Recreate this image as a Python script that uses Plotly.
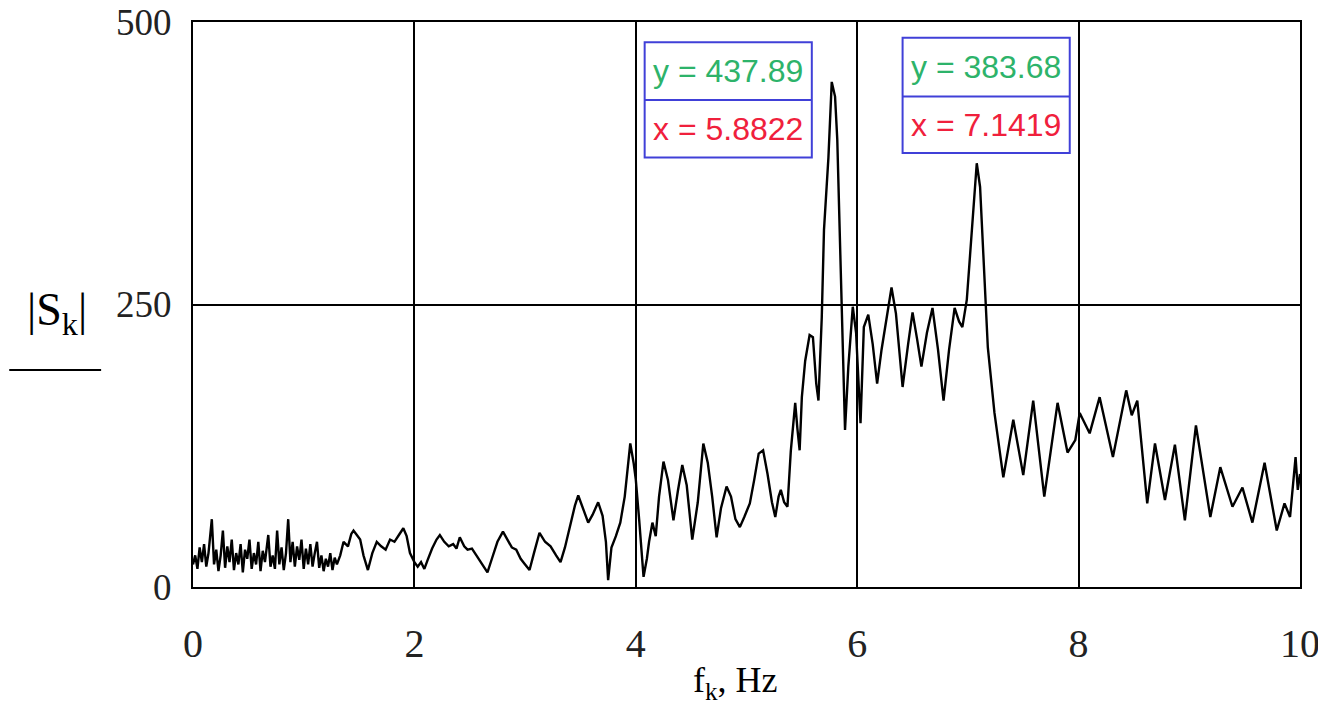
import plotly.graph_objects as go

freq = [0.00, 0.02, 0.04, 0.06, 0.08, 0.10, 0.12, 0.14, 0.17, 0.19, 0.21, 0.23, 0.25, 0.27, 0.29,
        0.31, 0.33, 0.35, 0.37, 0.39, 0.41, 0.43, 0.45, 0.47, 0.49, 0.51, 0.53, 0.55, 0.57, 0.59,
        0.61, 0.63, 0.65, 0.68, 0.70, 0.72, 0.74, 0.76, 0.78, 0.80, 0.82, 0.84, 0.86, 0.88, 0.90,
        0.92, 0.94, 0.96, 0.98, 1.00, 1.02, 1.04, 1.06, 1.08, 1.10, 1.12, 1.14, 1.16, 1.18, 1.20,
        1.22, 1.24, 1.26, 1.28, 1.30,
        1.33, 1.36, 1.40, 1.43, 1.45, 1.48, 1.51, 1.54, 1.58, 1.62, 1.66, 1.70, 1.74, 1.78, 1.82,
        1.86, 1.90, 1.93, 1.96, 2.00, 2.03, 2.06, 2.09, 2.12, 2.16, 2.20, 2.23, 2.27, 2.31, 2.35,
        2.38, 2.41, 2.45, 2.48, 2.52, 2.56, 2.60, 2.63, 2.66, 2.70, 2.75, 2.80, 2.84, 2.88, 2.92,
        2.96, 3.00, 3.04, 3.08, 3.13, 3.18, 3.23, 3.28, 3.32, 3.36, 3.41, 3.45, 3.48, 3.52, 3.57,
        3.61, 3.66, 3.70, 3.73, 3.75, 3.78, 3.82, 3.86, 3.90, 3.93, 3.95, 3.98, 4.00, 4.03, 4.05,
        4.07, 4.10, 4.12, 4.15, 4.18, 4.21, 4.25, 4.29, 4.34, 4.38, 4.42, 4.46, 4.51, 4.56, 4.61,
        4.65, 4.69, 4.73, 4.77, 4.82, 4.86, 4.90, 4.94, 4.98, 5.03, 5.07, 5.11, 5.15, 5.19, 5.23,
        5.26, 5.29, 5.31, 5.34, 5.37, 5.40, 5.42, 5.44, 5.46, 5.48, 5.50, 5.53, 5.57, 5.60, 5.63,
        5.65, 5.68, 5.70, 5.74, 5.77, 5.80, 5.82, 5.84, 5.86, 5.89, 5.92, 5.96, 5.99, 6.03, 6.06,
        6.10, 6.14, 6.18, 6.22, 6.27, 6.31, 6.35, 6.41, 6.46, 6.50, 6.54, 6.58, 6.63, 6.68, 6.73,
        6.78, 6.83, 6.88, 6.92, 6.95, 6.99, 7.04, 7.08, 7.11, 7.15, 7.18, 7.21, 7.24, 7.32, 7.41,
        7.50, 7.59, 7.69, 7.81, 7.90, 7.97, 8.01, 8.10, 8.19, 8.31, 8.43, 8.48, 8.53, 8.62, 8.69,
        8.78, 8.87, 8.96, 9.06, 9.19, 9.28, 9.39, 9.48, 9.57, 9.68, 9.79, 9.86, 9.91, 9.96, 9.98,
        10.0]

magnitude = [20, 28, 16, 35, 22, 38, 18, 30, 60, 20, 33, 14, 28, 50, 17,
             36, 22, 42, 15, 30, 20, 38, 13, 33, 25, 42, 16, 30, 20, 40,
             14, 32, 22, 46, 18, 28, 16, 50, 20, 35, 15, 30, 60, 22, 40,
             18, 36, 24, 42, 16, 34, 20, 38, 18, 30, 40, 17, 28, 14, 25,
             18, 30, 15, 26, 20,
             28, 40, 36, 47, 50, 46, 42, 28, 15, 30, 40, 36, 33, 42, 40,
             46, 52, 45, 30, 22, 18, 22, 16, 24, 34, 42, 46, 40, 36, 38,
             34, 44, 36, 33, 34, 28, 22, 18, 13, 25, 40, 49, 42, 35, 33,
             25, 20, 15, 30, 48, 40, 36, 28, 22, 35, 57, 72, 81, 70, 57,
             64, 75, 63, 40, 6, 35, 45, 57, 80, 106, 127, 110, 95, 60, 30,
             9, 25, 40, 57, 45, 80, 111, 95, 59, 85, 108, 90, 42, 75, 127,
             110, 80, 44, 70, 89, 80, 60, 53, 62, 74, 95, 118, 121, 100, 75,
             62, 80, 86, 75, 71, 120, 145, 163, 140, 121, 168, 200, 223, 221, 180,
             165, 239, 316, 380, 447, 434, 396, 322, 254, 139, 195, 248, 225, 145, 230,
             241, 215, 180, 210, 242, 265, 242, 177, 215, 243, 220, 195, 225, 247, 210,
             165, 210, 247, 235, 230, 254, 319, 375, 354, 274, 212, 183, 154, 97, 148,
             99, 165, 80, 163, 119, 130, 154, 136, 168, 115, 174, 152, 165, 74, 127,
             77, 126, 59, 143, 62, 106, 71, 88, 57, 110, 50, 74, 62, 115, 86,
             100]

x_ticks = [0, 2, 4, 6, 8, 10]
y_ticks = [0, 250, 500]
marker_labels = [("y = 437.89", "x = 5.8822"), ("y = 383.68", "x = 7.1419")]
marker_boxes_x = [(4.08, 5.59), (6.41, 7.92)]
marker_boxes_y = [(380, 431, 482), (384, 434, 486)]

fig = go.Figure()
fig.add_trace(go.Scatter(x=freq, y=magnitude, mode="lines",
                         line=dict(color="black", width=2.4),
                         showlegend=False, hoverinfo="skip"))

serif = "Liberation Serif, Times New Roman, serif"
fig.update_layout(
    width=1326, height=711,
    margin=dict(l=185, r=34, t=14, b=132, autoexpand=False),
    paper_bgcolor="white", plot_bgcolor="white",
    xaxis=dict(range=[0, 10], tickvals=x_ticks, ticktext=[str(v) for v in x_ticks],
               showgrid=True, gridcolor="black", gridwidth=1.5, automargin=False,
               showline=True, linecolor="black", linewidth=2, mirror=True,
               ticks="", ticklabelstandoff=20, zeroline=False, ticklabeloverflow="allow",
               tickfont=dict(family=serif, size=40, color="#222")),
    yaxis=dict(range=[0, 500], tickvals=y_ticks, ticktext=[str(v) for v in y_ticks],
               showgrid=True, gridcolor="black", gridwidth=1.5, automargin=False,
               showline=True, linecolor="black", linewidth=2, mirror=True,
               ticks="", ticklabelstandoff=12, zeroline=False, ticklabeloverflow="allow",
               tickfont=dict(family=serif, size=37, color="#222")),
)

# axis titles
fig.add_annotation(xref="paper", yref="paper", x=0.490, y=-0.125, xanchor="center", yanchor="top",
                   text="f<sub>k</sub>, Hz", showarrow=False,
                   font=dict(family=serif, size=36, color="black"))
fig.add_annotation(xref="paper", yref="paper", x=-0.123, y=0.485, xanchor="center", yanchor="middle",
                   text="|S<sub>k</sub>|", showarrow=False,
                   font=dict(family=serif, size=46, color="black"))
fig.add_shape(type="line", xref="paper", yref="paper", x0=-0.166, x1=-0.083, y0=0.384, y1=0.384,
              line=dict(color="black", width=2))

# readout boxes
for (ytxt, xtxt), (bx0, bx1), (by0, bym, by1) in zip(marker_labels, marker_boxes_x, marker_boxes_y):
    fig.add_shape(type="rect", x0=bx0, x1=bx1, y0=by0, y1=by1,
                  line=dict(color="#4040d8", width=2), fillcolor="white")
    fig.add_shape(type="line", x0=bx0, x1=bx1, y0=bym, y1=bym,
                  line=dict(color="#4040d8", width=2))
    fig.add_annotation(x=(bx0 + bx1) / 2, y=(bym + by1) / 2, text=ytxt, showarrow=False,
                       font=dict(family="Liberation Sans, Arial, sans-serif", size=32, color="#2db36a"))
    fig.add_annotation(x=(bx0 + bx1) / 2, y=(by0 + bym) / 2, text=xtxt, showarrow=False,
                       font=dict(family="Liberation Sans, Arial, sans-serif", size=32, color="#f0203c"))

fig.write_html("out.html")
